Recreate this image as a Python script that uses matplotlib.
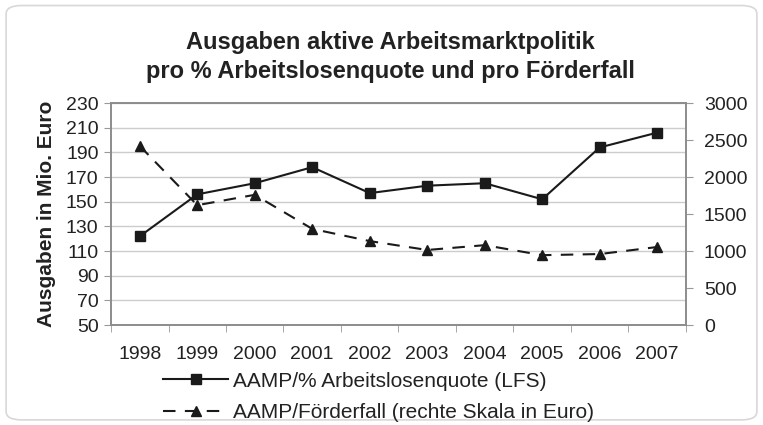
import matplotlib.pyplot as plt
from matplotlib.patches import FancyBboxPatch
import numpy as np

plt.rcParams['font.family'] = ['Liberation Sans', 'DejaVu Sans']

years = ['1998', '1999', '2000', '2001', '2002', '2003', '2004', '2005', '2006', '2007']
aamp_quote = [122, 156, 165, 178, 157, 163, 165, 152, 194, 206]
aamp_foerderfall = [2420, 1620, 1760, 1300, 1135, 1015, 1080, 945, 960, 1055]

col = '#1a1a1a'
fig = plt.figure(figsize=(7.63, 4.25), dpi=100)

# frame round the whole chart
frame = FancyBboxPatch((0.008, 0.012), 0.984, 0.975, boxstyle='round,pad=0,rounding_size=0.02',
                       transform=fig.transFigure, facecolor='none', edgecolor='#d8d8d8', lw=1.2,
                       zorder=-1)
fig.patches.append(frame)

ax = fig.add_axes([0.1455, 0.235, 0.7535, 0.5226])
ax2 = ax.twinx()

x = np.arange(len(years))
l1, = ax.plot(x, aamp_quote, '-', color=col, lw=1.5, marker='s', ms=7.5,
              label='AAMP/% Arbeitslosenquote (LFS)')
l2, = ax2.plot(x, aamp_foerderfall, color=col, lw=1.5, ls=(0, (6, 4.5)), marker='^', ms=7.5,
               label='AAMP/Förderfall (rechte Skala in Euro)')

ax.set_xlim(-0.5, 9.5)
ax.set_ylim(50, 230)
ax.set_yticks(np.arange(50, 231, 20))
ax2.set_ylim(0, 3000)
ax2.set_yticks(np.arange(0, 3001, 500))

ax.set_xticks(x)
ax.set_xticklabels(years)
ax.set_xticks(np.arange(-0.5, 10, 1), minor=True)
ax.tick_params(axis='x', which='major', length=0, pad=15, labelsize=14, colors='#222')
ax.tick_params(axis='x', which='minor', length=5, color='#999')
ax.tick_params(axis='y', length=5, color='#999', labelsize=14, labelcolor='#222', pad=4)
ax2.tick_params(axis='y', length=5, color='#999', labelsize=14, labelcolor='#222', pad=8)

ax.grid(axis='y', color='#cccccc', lw=1)
ax.set_axisbelow(True)
for a in (ax, ax2):
    for s in a.spines.values():
        s.set_color('#8c8c8c')
        s.set_linewidth(1.2)

ax.set_ylabel('Ausgaben in Mio. Euro', fontsize=15, fontweight='bold', color='#222', labelpad=7)

fig.text(0.512, 0.866, 'Ausgaben aktive Arbeitsmarktpolitik\npro % Arbeitslosenquote und pro Förderfall',
         ha='center', va='center', fontsize=17, fontweight='bold', color='#222', linespacing=1.3)

fig.legend(handles=[l1, l2], loc='upper left', bbox_to_anchor=(0.203, 0.145), frameon=False,
           fontsize=15, handlelength=3.1, handletextpad=0.25, labelspacing=0.6,
           borderaxespad=0, labelcolor='#222')

plt.savefig('out.png', dpi=100)
